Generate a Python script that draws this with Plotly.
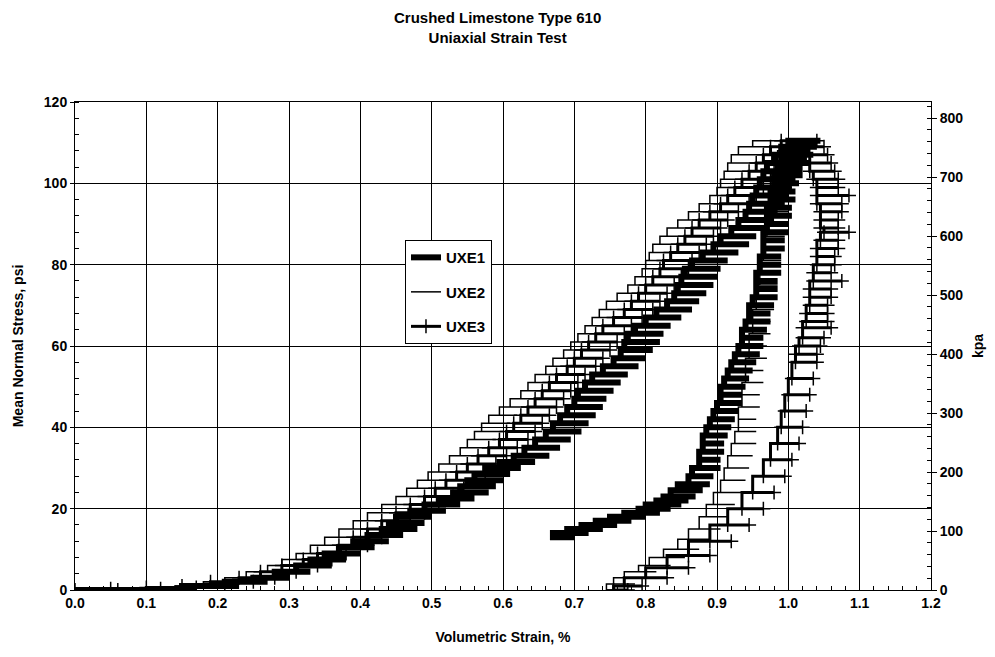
import plotly.graph_objects as go

# Each test is a staircase: at every stress level (psi) the strain (%)
# sweeps between a low and a high value. Loading branch first, then unloading.

# ---- UXE1 (thick line) ----
uxe1_y = [0, 1, 2, 3, 4.5, 6, 7.5, 9, 10.5, 12, 13.5, 15, 16.5, 18, 19.5, 21, 22.5, 24, 25.5, 27,
          28.5, 30, 31.5, 33, 35, 37, 39, 41, 43, 45, 47, 49, 51, 53, 55, 57, 59, 61, 63, 65,
          67, 69, 71, 73, 75, 77, 79, 81, 83, 85, 87, 89, 91, 93, 95, 97, 99, 101, 103, 105,
          107, 109, 110.5,
          108, 106, 104, 102, 100, 98, 96, 94, 92, 90, 88, 86, 84, 82, 80, 78, 76, 74, 72, 70,
          68, 66, 64, 62, 60, 58, 56, 54, 52, 50, 48, 46, 44, 42, 40, 38, 36, 34, 32, 30,
          28, 26, 24.5, 23, 22, 21, 20, 19, 18, 17, 16, 15, 14, 13]
uxe1_lo = [0.00, 0.15, 0.21, 0.25, 0.28, 0.31, 0.33, 0.35, 0.37, 0.39, 0.41, 0.43, 0.44, 0.45, 0.47,
           0.49, 0.51, 0.53, 0.54, 0.55, 0.56, 0.575, 0.595, 0.615, 0.63, 0.645, 0.66, 0.67, 0.68,
           0.69, 0.70, 0.705, 0.715, 0.725, 0.74, 0.755, 0.765, 0.77, 0.775, 0.785, 0.80, 0.815,
           0.83, 0.84, 0.845, 0.85, 0.855, 0.865, 0.88, 0.895, 0.905, 0.92, 0.93, 0.94, 0.945,
           0.95, 0.955, 0.96, 0.965, 0.97, 0.98, 0.99, 1.00,
           1.00, 0.995, 0.99, 0.985, 0.98, 0.98, 0.975, 0.975, 0.97, 0.97, 0.97, 0.965, 0.965,
           0.965, 0.96, 0.96, 0.955, 0.955, 0.955, 0.95, 0.945, 0.945, 0.94, 0.935, 0.935, 0.93,
           0.925, 0.92, 0.915, 0.91, 0.905, 0.905, 0.90, 0.895, 0.89, 0.885, 0.88, 0.88, 0.875,
           0.875, 0.865, 0.86, 0.845, 0.835, 0.825, 0.815, 0.80, 0.79, 0.77, 0.75, 0.73, 0.71,
           0.69, 0.67]
uxe1_hi = [0.17, 0.23, 0.27, 0.30, 0.33, 0.36, 0.38, 0.40, 0.42, 0.44, 0.46, 0.48, 0.49, 0.50, 0.52,
           0.54, 0.56, 0.58, 0.59, 0.60, 0.61, 0.625, 0.645, 0.665, 0.68, 0.695, 0.71, 0.72, 0.73,
           0.74, 0.745, 0.755, 0.765, 0.775, 0.79, 0.80, 0.81, 0.82, 0.825, 0.835, 0.85, 0.865,
           0.875, 0.885, 0.895, 0.90, 0.905, 0.915, 0.93, 0.945, 0.955, 0.97, 0.98, 0.985, 0.995,
           1.00, 1.005, 1.01, 1.02, 1.03, 1.035, 1.04, 1.045,
           1.03, 1.025, 1.02, 1.02, 1.015, 1.01, 1.01, 1.005, 1.005, 1.00, 1.00, 0.995, 0.995,
           0.99, 0.99, 0.99, 0.985, 0.985, 0.985, 0.98, 0.975, 0.975, 0.97, 0.965, 0.965, 0.96,
           0.955, 0.95, 0.945, 0.94, 0.935, 0.935, 0.93, 0.925, 0.92, 0.915, 0.91, 0.91, 0.905,
           0.905, 0.895, 0.89, 0.88, 0.87, 0.86, 0.85, 0.835, 0.82, 0.80, 0.78, 0.76, 0.74,
           0.72, 0.70]

# ---- UXE2 (thin line) ----
uxe2_y = [0, 0.5, 1, 2, 3, 4.5, 6, 7.5, 9, 11, 13, 15, 17, 19, 21, 23, 25, 27, 29, 31,
          33, 35, 37, 39, 41, 43, 45, 47, 49, 51, 53, 55, 57, 59, 61, 63, 65, 67, 69, 71,
          73, 75, 77, 79, 81, 83, 85, 87, 89, 91, 93, 95, 97, 99, 101, 103, 105, 107, 109, 110.5,
          108, 105, 102, 99, 96, 93, 90, 87, 84, 81, 78, 75, 72, 69, 66, 63, 60, 57, 54, 51,
          48, 45, 42, 39, 36, 33, 30, 27, 24, 21, 18, 15, 12.5, 10, 8, 6, 4.5, 3, 1.5, 0]
uxe2_lo = [0.00, 0.08, 0.14, 0.18, 0.21, 0.24, 0.27, 0.29, 0.31, 0.33, 0.35, 0.37, 0.39, 0.41,
           0.43, 0.45, 0.465, 0.48, 0.495, 0.51, 0.525, 0.54, 0.55, 0.56, 0.57, 0.58, 0.595,
           0.61, 0.625, 0.635, 0.645, 0.66, 0.67, 0.685, 0.695, 0.705, 0.715, 0.725, 0.735,
           0.745, 0.76, 0.775, 0.785, 0.795, 0.80, 0.805, 0.81, 0.82, 0.83, 0.845, 0.86, 0.875,
           0.89, 0.90, 0.905, 0.91, 0.915, 0.92, 0.93, 0.95,
           0.99, 0.985, 0.98, 0.98, 0.975, 0.975, 0.97, 0.97, 0.965, 0.965, 0.96, 0.96, 0.955,
           0.955, 0.95, 0.95, 0.945, 0.945, 0.94, 0.94, 0.935, 0.935, 0.93, 0.93, 0.925, 0.92,
           0.915, 0.91, 0.905, 0.895, 0.885, 0.875, 0.86, 0.845, 0.825, 0.805, 0.79, 0.77,
           0.755, 0.745]
uxe2_hi = [0.10, 0.16, 0.20, 0.24, 0.27, 0.29, 0.31, 0.33, 0.35, 0.37, 0.39, 0.41, 0.43, 0.45,
           0.47, 0.49, 0.505, 0.52, 0.535, 0.55, 0.565, 0.58, 0.59, 0.60, 0.61, 0.62, 0.635,
           0.65, 0.665, 0.675, 0.685, 0.70, 0.71, 0.725, 0.735, 0.745, 0.755, 0.765, 0.775,
           0.785, 0.80, 0.815, 0.825, 0.835, 0.84, 0.845, 0.85, 0.86, 0.87, 0.885, 0.90, 0.915,
           0.93, 0.94, 0.945, 0.95, 0.96, 0.97, 0.99, 1.01,
           1.02, 1.01, 1.005, 1.005, 1.00, 1.00, 0.995, 0.995, 0.99, 0.99, 0.985, 0.985, 0.98,
           0.98, 0.975, 0.975, 0.97, 0.97, 0.965, 0.965, 0.96, 0.96, 0.955, 0.955, 0.955, 0.95,
           0.945, 0.94, 0.935, 0.925, 0.915, 0.905, 0.89, 0.875, 0.855, 0.835, 0.815, 0.80,
           0.785, 0.77]

# ---- UXE3 (line with + markers) ----
uxe3_y = [0, 0.3, 0.6, 1, 2, 3, 4.5, 6, 7.5, 9, 11, 13, 15, 17, 19, 21, 23, 25, 27, 29,
          31, 33, 35, 37, 39, 41, 43, 45, 47, 49, 51, 53, 55, 57, 59, 61, 63, 65, 67, 69,
          71, 73, 75, 77, 79, 81, 83, 85, 87, 89, 91, 93, 95, 97, 99, 101, 103, 105, 107, 109,
          110.5,
          109, 107, 105, 103, 101, 99, 97, 95, 93, 91, 89, 88, 86, 84, 82, 80, 78, 76, 74, 72,
          70, 68, 66, 64.5, 62, 60, 58, 56, 52, 48, 44, 40, 36, 32, 28, 24, 20, 16, 12, 8.5,
          5.5, 3, 1, 0]
uxe3_lo = [0.00, 0.05, 0.10, 0.15, 0.19, 0.23, 0.26, 0.29, 0.32, 0.34, 0.37, 0.39, 0.41, 0.43,
           0.45, 0.47, 0.49, 0.505, 0.52, 0.535, 0.55, 0.565, 0.58, 0.595, 0.605, 0.615, 0.625,
           0.635, 0.645, 0.655, 0.665, 0.675, 0.69, 0.70, 0.71, 0.72, 0.73, 0.74, 0.755, 0.77,
           0.78, 0.79, 0.80, 0.81, 0.82, 0.825, 0.835, 0.845, 0.855, 0.865, 0.875, 0.89, 0.905,
           0.915, 0.925, 0.935, 0.945, 0.955, 0.965, 0.975, 0.99,
           1.02, 1.025, 1.03, 1.03, 1.035, 1.04, 1.04, 1.04, 1.045, 1.045, 1.045, 1.05, 1.045,
           1.04, 1.04, 1.04, 1.035, 1.035, 1.03, 1.03, 1.03, 1.025, 1.025, 1.02, 1.02, 1.015,
           1.01, 1.01, 1.005, 1.00, 0.995, 0.99, 0.985, 0.975, 0.965, 0.95, 0.935, 0.915, 0.89,
           0.86, 0.83, 0.80, 0.77, 0.755]
uxe3_hi = [0.06, 0.12, 0.17, 0.21, 0.25, 0.28, 0.31, 0.34, 0.36, 0.38, 0.41, 0.43, 0.45, 0.47,
           0.49, 0.51, 0.53, 0.545, 0.56, 0.575, 0.59, 0.605, 0.62, 0.635, 0.645, 0.655, 0.665,
           0.675, 0.685, 0.695, 0.705, 0.715, 0.73, 0.74, 0.75, 0.76, 0.77, 0.78, 0.795, 0.81,
           0.82, 0.83, 0.84, 0.85, 0.86, 0.865, 0.875, 0.885, 0.895, 0.905, 0.915, 0.93, 0.945,
           0.955, 0.965, 0.975, 0.99, 1.00, 1.01, 1.03, 1.04,
           1.05, 1.055, 1.06, 1.065, 1.07, 1.07, 1.085, 1.075, 1.075, 1.07, 1.07, 1.085, 1.07,
           1.07, 1.065, 1.065, 1.06, 1.075, 1.06, 1.06, 1.055, 1.055, 1.055, 1.06, 1.05, 1.045,
           1.04, 1.04, 1.035, 1.03, 1.025, 1.02, 1.015, 1.005, 0.995, 0.98, 0.965, 0.945, 0.92,
           0.89, 0.86, 0.83, 0.795, 0.775]

PSI_TO_KPA = 6.894757
FONT = "Liberation Sans"


def staircase(levels, lo, hi):
    xs, ys = [], []
    for y, a, b in zip(levels, lo, hi):
        xs += [a, b]
        ys += [y, y]
    return xs, ys


x1, y1 = staircase(uxe1_y, uxe1_lo, uxe1_hi)
x2, y2 = staircase(uxe2_y, uxe2_lo, uxe2_hi)
x3, y3 = staircase(uxe3_y, uxe3_lo, uxe3_hi)

fig = go.Figure()
fig.add_trace(go.Scatter(x=x1, y=y1, name="UXE1", mode="lines", line_shape="hv",
                         line=dict(color="black", width=6), legendgroup="a"))
fig.add_trace(go.Scatter(x=x2, y=y2, name="UXE2", mode="lines", line_shape="hv",
                         line=dict(color="black", width=1.5), legendgroup="b"))
fig.add_trace(go.Scatter(x=x3, y=y3, name="UXE3", mode="lines+markers", line_shape="hv",
                         line=dict(color="black", width=3),
                         marker=dict(symbol="cross-thin", size=10, color="black",
                                     line=dict(color="black", width=1.5)),
                         legendgroup="c"))
# invisible trace to carry the kpa axis
fig.add_trace(go.Scatter(x=[0], y=[0], yaxis="y2", mode="markers",
                         marker=dict(opacity=0), showlegend=False, hoverinfo="skip"))

tickfont = dict(family=FONT, size=14, color="black", weight="bold")
titlefont = dict(family=FONT, size=14, color="black", weight="bold")

fig.update_layout(
    width=979, height=641,
    paper_bgcolor="white", plot_bgcolor="white",
    margin=dict(l=67, r=56, t=94, b=59),
    annotations=[dict(text="<b>Crushed Limestone Type 610<br>Uniaxial Strain Test</b>",
                      xref="paper", yref="paper", x=0.494, y=1, yshift=54,
                      xanchor="center", yanchor="bottom", showarrow=False,
                      font=dict(family=FONT, size=15, color="black"))],
    showlegend=True,
    legend=dict(x=0.3855, y=0.717, xanchor="left", yanchor="top",
                bgcolor="white", bordercolor="black", borderwidth=1,
                font=dict(family=FONT, size=15, color="black", weight="bold"),
                tracegroupgap=12),
    xaxis=dict(range=[0, 1.2], dtick=0.1, tickformat=".1f", automargin=False,
               showgrid=True, gridcolor="black", gridwidth=1,
               showline=True, linecolor="black", linewidth=1, mirror=True,
               ticks="", tickfont=tickfont, zeroline=False,
               minor=dict(dtick=0.02, ticks="inside", ticklen=4, tickcolor="black", showgrid=False),
               title=dict(text="Volumetric Strain, %", font=titlefont, standoff=22)),
    yaxis=dict(range=[0, 120], dtick=20, automargin=False,
               showgrid=True, gridcolor="black", gridwidth=1,
               showline=True, linecolor="black", linewidth=1, mirror=True,
               ticks="outside", ticklen=4, tickcolor="black", tickfont=tickfont, zeroline=False,
               minor=dict(dtick=4, ticks="inside", ticklen=4, tickcolor="black", showgrid=False),
               title=dict(text="Mean Normal Stress, psi", font=titlefont, standoff=16)),
    yaxis2=dict(range=[0, 120 * PSI_TO_KPA], dtick=100, overlaying="y", side="right",
                automargin=False, showgrid=False, showline=False, zeroline=False,
                ticks="outside", ticklen=5, tickcolor="black", tickfont=tickfont,
                minor=dict(dtick=20, ticks="inside", ticklen=4, tickcolor="black"),
                title=dict(text="kpa", font=titlefont, standoff=10)),
)

fig.write_html("out.html")
